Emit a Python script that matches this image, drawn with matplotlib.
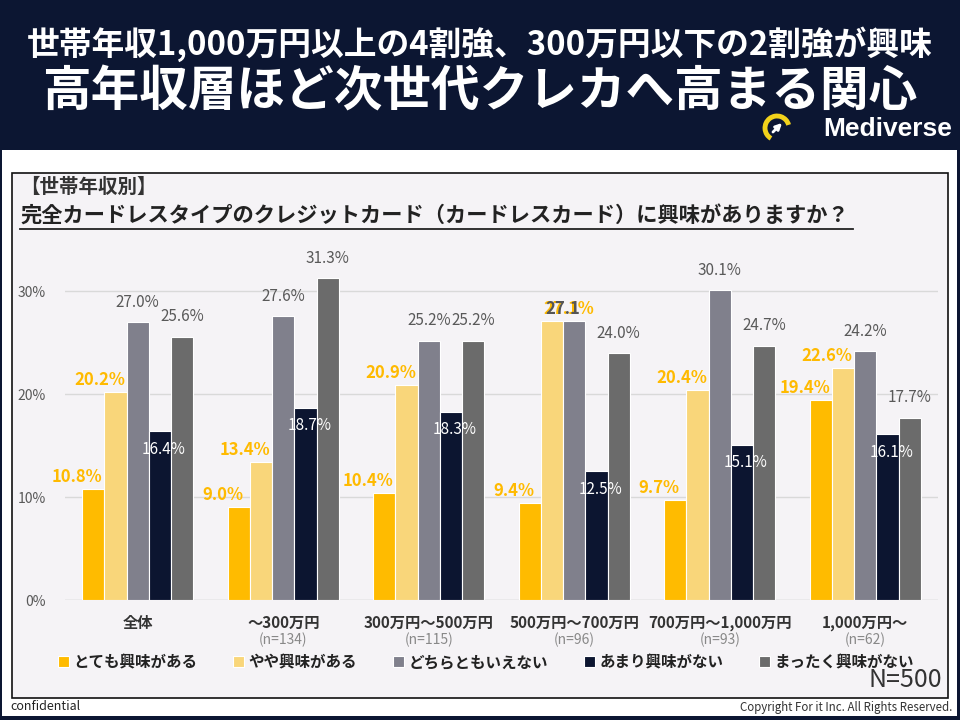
import numpy as np
import matplotlib

matplotlib.use("Agg")
import matplotlib.pyplot as plt
from matplotlib.patches import Rectangle, Arc

plt.rcParams["font.family"] = ["Noto Sans CJK JP", "DejaVu Sans"]

# data
groups = ["全体", "～300万円", "300万円～500万円", "500万円～700万円", "700万円～1,000万円", "1,000万円～"]
group_n = ["", "(n=134)", "(n=115)", "(n=96)", "(n=93)", "(n=62)"]
series = ["とても興味がある", "やや興味がある", "どちらともいえない", "あまり興味がない", "まったく興味がない"]
very = [10.8, 9.0, 10.4, 9.4, 9.7, 19.4]
some = [20.2, 13.4, 20.9, 27.1, 20.4, 22.6]
neutral = [27.0, 27.6, 25.2, 27.1, 30.1, 24.2]
little = [16.4, 18.7, 18.3, 12.5, 15.1, 16.1]
none_ = [25.6, 31.3, 25.2, 24.0, 24.7, 17.7]
yticks = [0, 10, 20, 30]

colors = ["#FFBB00", "#F9D67A", "#80808C", "#0C1530", "#6B6B6B"]
NAVY = "#0C1632"
PX = 0.72  # pixels -> points at dpi 100

fig = plt.figure(figsize=(9.6, 7.2), dpi=100, facecolor=NAVY)

# background layer in pixel coordinates
bg = fig.add_axes([0, 0, 1, 1], zorder=0)
bg.set_xlim(0, 960)
bg.set_ylim(720, 0)
bg.axis("off")
bg.add_patch(Rectangle((2, 150), 955, 566, facecolor="white", edgecolor="none"))
bg.add_patch(Rectangle((12, 173), 936, 525, facecolor="#F5F3F6", edgecolor="#111111", lw=1.2))

bg.text(480, 44, "世帯年収1,000万円以上の4割強、300万円以下の2割強が興味", color="white",
        fontsize=23.6, fontweight="bold", ha="center", va="center")
bg.text(480, 92, "高年収層ほど次世代クレカへ高まる関心", color="white",
        fontsize=35, fontweight="bold", ha="center", va="center")
bg.add_patch(Arc((777, 128), 24, 24, theta1=120, theta2=345, color="#F2D21B", lw=3.5))
bg.annotate("", xy=(784, 121), xytext=(771, 134),
            arrowprops=dict(arrowstyle="-|>", color="white", lw=2, mutation_scale=9))
bg.text(952, 129, "Mediverse", color="white", fontsize=19, fontweight="bold",
        family=["Liberation Sans", "DejaVu Sans"], ha="right", va="center")

bg.text(20, 187, "【世帯年収別】", color="#333333", fontsize=14, fontweight="bold", va="center")
bg.text(20, 216, "完全カードレスタイプのクレジットカード（カードレスカード）に興味がありますか？",
        color="#222222", fontsize=15.3, fontweight="bold", va="center")
bg.plot([20, 853], [229, 229], color="#222222", lw=1.3)

bg.text(942, 680, "N=500", color="#333333", fontsize=18, ha="right", va="center")
bg.text(10, 707, "confidential", color="#222222", fontsize=9, va="center")
bg.text(952, 708, "Copyright For it Inc. All Rights Reserved.", color="#333333",
        fontsize=8.3, ha="right", va="center")

# chart
ax = fig.add_axes([65 / 960, 1 - 600 / 720, 873 / 960, 360 / 720], zorder=1)
ax.set_facecolor("none")
ax.set_xlim(-0.5, 5.5)
ax.set_ylim(0, 35)
for s in ax.spines.values():
    s.set_visible(False)
ax.set_yticks(yticks)
ax.set_yticklabels([f"{t}%" for t in yticks], color="#595959", fontsize=10)
ax.tick_params(axis="y", length=0, pad=14)
ax.set_xticks([])
ax.grid(axis="y", color="#D9D9D9", lw=1)
ax.set_axisbelow(True)
ax.axhline(0, color="#D9D9D9", lw=1, zorder=0)

x = np.arange(len(groups))
w = 0.153
data = [very, some, neutral, little, none_]
handles = []
for i, vals in enumerate(data):
    pos = x + (i - 2) * w
    b = ax.bar(pos, vals, width=w, color=colors[i], edgecolor="white", linewidth=0.8, label=series[i])
    handles.append(b)
    for j, (p, v) in enumerate(zip(pos, vals)):
        if i < 2:
            dx = -16
            if i == 1 and j == 3:
                dx = 17  # shares its spot with the neighbouring label in the source
            ax.annotate(f"{v:.1f}%", (p, v), xytext=(dx * PX, 3 * PX), textcoords="offset points",
                        ha="center", va="bottom", color="#FFBA00", fontsize=12, fontweight="bold")
        elif i == 3:
            ax.annotate(f"{v:.1f}%", (p, v), xytext=(4 * PX, -18 * PX), textcoords="offset points",
                        ha="center", va="center", color="white", fontsize=11)
        elif i == 2 and j == 3:
            ax.annotate(f"{v:.1f}", (p, v), xytext=(-11 * PX, 3 * PX), textcoords="offset points",
                        ha="center", va="bottom", color="#555555", fontsize=12, fontweight="bold")
        else:
            ax.annotate(f"{v:.1f}%", (p, v), xytext=(0, 20 * PX), textcoords="offset points",
                        ha="center", va="center", color="#595959", fontsize=11)

xt = ax.get_xaxis_transform()
for j, g in enumerate(groups):
    ax.annotate(g, (x[j], 0), xycoords=xt, xytext=(0, -23 * PX), textcoords="offset points",
                ha="center", va="center", color="#333333", fontsize=11, fontweight="bold")
    if group_n[j]:
        ax.annotate(group_n[j], (x[j], 0), xycoords=xt, xytext=(0, -40 * PX), textcoords="offset points",
                    ha="center", va="center", color="#888888", fontsize=10)

fig.legend(handles=handles, loc="center", bbox_to_anchor=(486 / 960, 1 - 662 / 720), ncol=5,
           frameon=False, handlelength=0.7, handleheight=0.7, handletextpad=0.3, columnspacing=2.3,
           prop=dict(weight="bold", size=11.2), labelcolor="#222222")

fig.savefig("out.png", dpi=100, facecolor=NAVY)
